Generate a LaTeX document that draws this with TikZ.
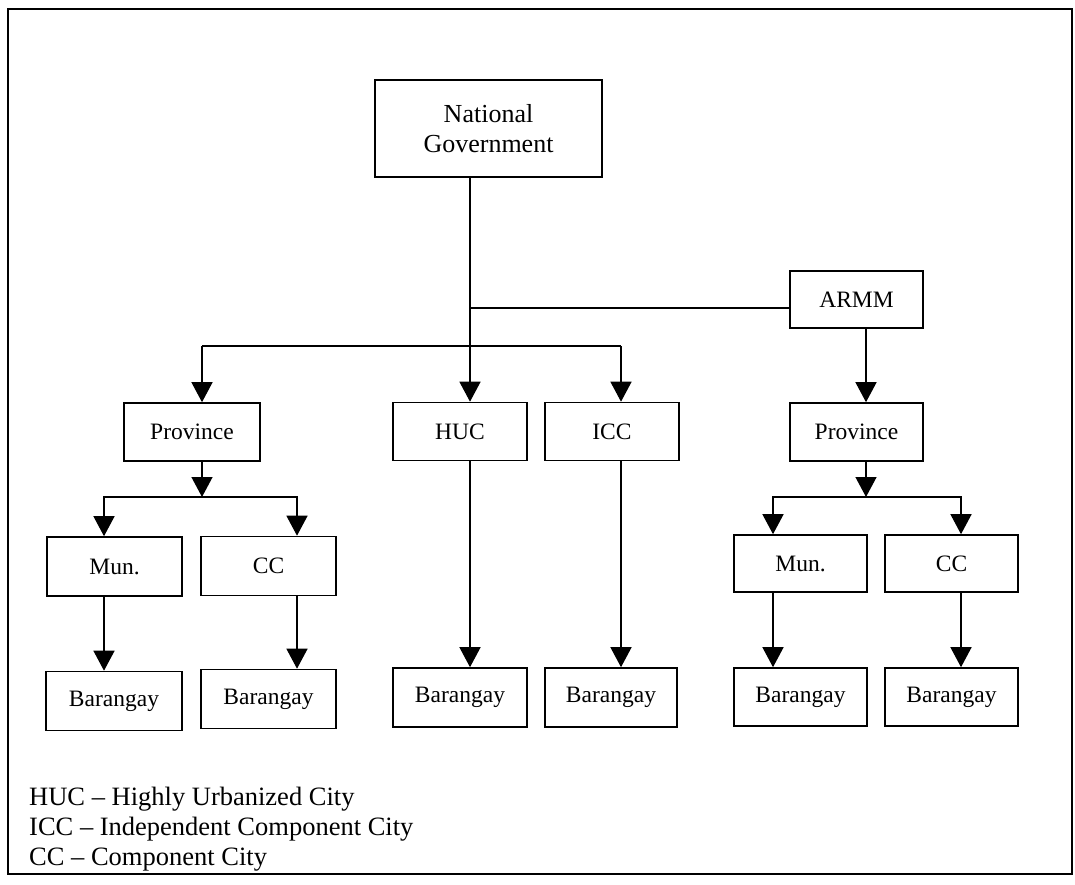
\documentclass[tikz,border=0pt]{standalone}
\usepackage{fontspec}
\setmainfont{Liberation Serif}
\usetikzlibrary{arrows.meta,calc}
\begin{document}
\begin{tikzpicture}[x=1pt,y=-1pt,
  box/.style={draw,line width=1.6pt,rectangle,inner sep=0pt,align=center,
    font=\fontsize{23.5}{28}\selectfont},
  unitbox/.style={box,minimum width=134pt,minimum height=58pt},
  link/.style={line width=1.4pt},
  arr/.style={link,-{Triangle[width=21pt,length=20pt]}},
  legend/.style={anchor=base west,inner sep=0pt,font=\fontsize{26.5}{30}\selectfont}]

\useasboundingbox (0,0) rectangle (1075,885);
\draw[line width=2.4pt] (8,9) rectangle (1072,874);

% top level
\node[box,minimum width=227pt,minimum height=97pt,font=\fontsize{26}{30}\selectfont]
  (ng) at (488.5,128.5) {National\\Government};
\node[unitbox,minimum width=133pt,minimum height=57pt] (armm) at (856.5,299.5) {ARMM};

% second level
\node[unitbox,minimum width=136pt] (provL) at (192,432) {Province};
\node[unitbox] (huc) at (460,431.5) {HUC};
\node[unitbox] (icc) at (612,431.5) {ICC};
\node[unitbox,minimum width=133pt] (provR) at (856.5,432) {Province};

% third level
\node[unitbox,minimum width=135pt,minimum height=59pt] (munL) at (114.5,566.5) {Mun.};
\node[unitbox,minimum width=135pt,minimum height=59pt] (ccL) at (268.5,566) {CC};
\node[unitbox,minimum width=133pt,minimum height=57pt] (munR) at (800.5,563.5) {Mun.};
\node[unitbox,minimum width=133pt,minimum height=57pt] (ccR) at (951.5,563.5) {CC};

% barangays
\node[unitbox,minimum width=136pt,minimum height=59pt] (barA) at (114,701) {Barangay};
\node[unitbox,minimum width=135pt,minimum height=59pt] (barB) at (268.5,699) {Barangay};
\node[unitbox,minimum height=59pt] (barC) at (460,697.5) {Barangay};
\node[unitbox,minimum width=132pt,minimum height=59pt] (barD) at (611,697.5) {Barangay};
\node[unitbox,minimum width=133pt,minimum height=58pt] (barE) at (800.5,697) {Barangay};
\node[unitbox,minimum width=133pt,minimum height=58pt] (barF) at (951.5,697) {Barangay};

% connector lanes
\coordinate (hucin) at ([xshift=10]huc.north);
\coordinate (armmin) at ([yshift=-8.5]armm.west);
\coordinate (bar) at (470,346);
\coordinate (provLin) at ([xshift=10]provL.north);
\coordinate (iccin) at ([xshift=9]icc.north);
\coordinate (armmout) at ([xshift=9.5]armm.south);
\coordinate (jL) at (202,497);
\coordinate (jR) at (866,497);
\coordinate (munLin) at ([xshift=-10.5]munL.north);
\coordinate (ccLin) at ([xshift=28.5]ccL.north);
\coordinate (munRin) at ([xshift=-27.5]munR.north);
\coordinate (ccRin) at ([xshift=9.5]ccR.north);

% national government and ARMM
\draw[arr] (ng.south -| hucin) -- (hucin);
\draw[link] (armmin) -- (armmin -| hucin);
\draw[link] (bar -| provLin) -- (bar -| iccin);
\draw[arr] (bar -| provLin) -- (provLin);
\draw[arr] (bar -| iccin) -- (iccin);
\draw[arr] (armmout) -- (armmout |- provR.north);

% provinces to municipalities and component cities
\draw[arr] (jL |- provL.south) -- (jL);
\draw[arr] (jL) -| (munLin);
\draw[arr] (jL) -| (ccLin);
\draw[arr] (jR |- provR.south) -- (jR);
\draw[arr] (jR) -| (munRin);
\draw[arr] (jR) -| (ccRin);

% down to the barangays
\draw[arr] (munLin |- munL.south) -- (munLin |- barA.north);
\draw[arr] (ccLin |- ccL.south) -- (ccLin |- barB.north);
\draw[arr] (hucin |- huc.south) -- (hucin |- barC.north);
\draw[arr] (iccin |- icc.south) -- (iccin |- barD.north);
\draw[arr] (munRin |- munR.south) -- (munRin |- barE.north);
\draw[arr] (ccRin |- ccR.south) -- (ccRin |- barF.north);

% legend
\node[legend] (lg1) at (29,805) {HUC – Highly Urbanized City};
\node[legend] (lg2) at (29,835) {ICC – Independent Component City};
\node[legend] (lg3) at (29,865) {CC – Component City};
\end{tikzpicture}
\end{document}
